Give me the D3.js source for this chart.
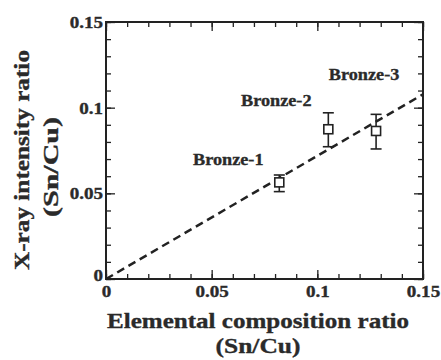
<!DOCTYPE html>
<html>
<head>
<meta charset="utf-8">
<script src="https://cdn.jsdelivr.net/npm/d3@7"></script>
<style>
  html, body { margin: 0; padding: 0; background: #fff; }
  svg { display: block; }
  text { font-family: "Liberation Serif", "Times New Roman", serif; font-weight: bold; fill: #2a2a2a;
         stroke: #2a2a2a; stroke-width: 0.35px; }
</style>
</head>
<body>
<svg id="chart" width="441" height="360"></svg>
<script>
// Samples: elemental composition ratio vs measured X-ray intensity ratio (Sn/Cu)
const samples = ["Bronze-1", "Bronze-2", "Bronze-3"];
const compRatio = [0.082, 0.1052, 0.1278];
const xrayRatio = [0.0564, 0.0874, 0.0864];
const errLow = [0.0510, 0.0772, 0.0759];
const errHigh = [0.0607, 0.0970, 0.0961];

// Linear fit through the origin
const fitX = [0, 0.15];
const fitY = [0, 0.1078];

const xTicks = [0, 0.05, 0.1, 0.15];
const yTicks = [0, 0.05, 0.1, 0.15];
const tickLabels = ["0", "0.05", "0.1", "0.15"];

const W = 441, H = 360;
const margin = { left: 106, right: 18, top: 22, bottom: 81 };
const iw = W - margin.left - margin.right;
const ih = H - margin.top - margin.bottom;

const svg = d3.select("#chart");
const g = svg.append("g").attr("transform", `translate(${margin.left},${margin.top})`);

const x = d3.scaleLinear().domain([0, 0.15]).range([0, iw]);
const y = d3.scaleLinear().domain([0, 0.15]).range([ih, 0]);

const ink = "#222";
const minor = d3.range(0, 0.1501, 0.01);

// widen glyphs a little: the typeface used here runs wider than Times
function widen(sel, k) {
  sel.each(function () {
    const len = this.getComputedTextLength();
    d3.select(this).attr("textLength", len * k).attr("lengthAdjust", "spacingAndGlyphs");
  });
  return sel;
}

// inward ticks on all four sides: long at labelled values, short in between
function tickAxis(axisGen, transform, values, len) {
  const a = g.append("g").attr("transform", transform)
    .call(axisGen.tickValues(values).tickSize(len).tickFormat(""));
  a.select(".domain").remove();
  a.selectAll("line").attr("stroke", ink).attr("stroke-width", 1.3);
  return a;
}
tickAxis(d3.axisTop(x), `translate(0,${ih})`, minor, 5);
tickAxis(d3.axisTop(x), `translate(0,${ih})`, xTicks, 9);
tickAxis(d3.axisBottom(x), `translate(0,0)`, minor, 5);
tickAxis(d3.axisBottom(x), `translate(0,0)`, xTicks, 9);
tickAxis(d3.axisRight(y), `translate(0,0)`, minor, 5);
tickAxis(d3.axisRight(y), `translate(0,0)`, yTicks, 9);
tickAxis(d3.axisLeft(y), `translate(${iw},0)`, minor, 5);
tickAxis(d3.axisLeft(y), `translate(${iw},0)`, yTicks, 9);

// frame
g.append("rect").attr("x", 0).attr("y", 0).attr("width", iw).attr("height", ih)
  .attr("fill", "none").attr("stroke", ink).attr("stroke-width", 2);

// tick labels
const xl = d3.axisBottom(x).tickValues(xTicks).tickSize(0).tickPadding(6)
  .tickFormat((d, i) => tickLabels[i]);
const xa = g.append("g").attr("transform", `translate(0,${ih})`).call(xl);
xa.select(".domain").remove();
widen(xa.selectAll("text").attr("font-size", 17).attr("fill", "#2a2a2a"), 1.12);

const yl = d3.axisLeft(y).tickValues(yTicks).tickSize(0).tickPadding(3)
  .tickFormat((d, i) => tickLabels[i]);
const ya = g.append("g").call(yl);
ya.select(".domain").remove();
widen(ya.selectAll("text").attr("font-size", 17).attr("fill", "#2a2a2a"), 1.12);
ya.selectAll(".tick").filter(d => d === 0).select("text").attr("dy", "0.1em");

// fit line
const line = d3.line().x(d => x(d[0])).y(d => y(d[1]));
g.append("path").datum(fitX.map((v, i) => [v, fitY[i]]))
  .attr("d", line).attr("fill", "none").attr("stroke", ink)
  .attr("stroke-width", 2.5).attr("stroke-dasharray", "8,5");

// error bars and markers
const pts = samples.map((s, i) => ({ s, cx: compRatio[i], cy: xrayRatio[i], lo: errLow[i], hi: errHigh[i] }));
const cap = 5.5, half = 4.5;
const pg = g.append("g").attr("stroke", ink).attr("stroke-width", 1.6).attr("fill", "none");
pts.forEach(p => {
  pg.append("line").attr("x1", x(p.cx)).attr("x2", x(p.cx)).attr("y1", y(p.hi)).attr("y2", y(p.lo));
  pg.append("line").attr("x1", x(p.cx) - cap).attr("x2", x(p.cx) + cap).attr("y1", y(p.hi)).attr("y2", y(p.hi));
  pg.append("line").attr("x1", x(p.cx) - cap).attr("x2", x(p.cx) + cap).attr("y1", y(p.lo)).attr("y2", y(p.lo));
  pg.append("rect").attr("x", x(p.cx) - half).attr("y", y(p.cy) - half)
    .attr("width", 2 * half).attr("height", 2 * half).attr("fill", "#fff");
});

// sample labels, offset from each marker
const labelOffsets = [[-51, -17], [-52, -23], [-12, -51]];
pts.forEach((p, i) => {
  widen(g.append("text").attr("x", x(p.cx) + labelOffsets[i][0]).attr("y", y(p.cy) + labelOffsets[i][1])
    .attr("text-anchor", "middle").attr("font-size", 17.5).text(p.s), 1.04);
});

// axis titles
svg.append("text").attr("x", 258).attr("y", 328).attr("text-anchor", "middle")
  .attr("font-size", 22).attr("textLength", 302).attr("lengthAdjust", "spacingAndGlyphs")
  .text("Elemental composition ratio");
svg.append("text").attr("x", 258).attr("y", 353).attr("text-anchor", "middle")
  .attr("font-size", 22).attr("textLength", 85).attr("lengthAdjust", "spacingAndGlyphs").text("(Sn/Cu)");
svg.append("text").attr("transform", "translate(29,160) rotate(-90)").attr("text-anchor", "middle")
  .attr("font-size", 22).attr("textLength", 220).attr("lengthAdjust", "spacingAndGlyphs").text("X-ray intensity ratio");
svg.append("text").attr("transform", "translate(58,167) rotate(-90)").attr("text-anchor", "middle")
  .attr("font-size", 22).attr("textLength", 100).attr("lengthAdjust", "spacingAndGlyphs").text("(Sn/Cu)");
</script>
</body>
</html>
